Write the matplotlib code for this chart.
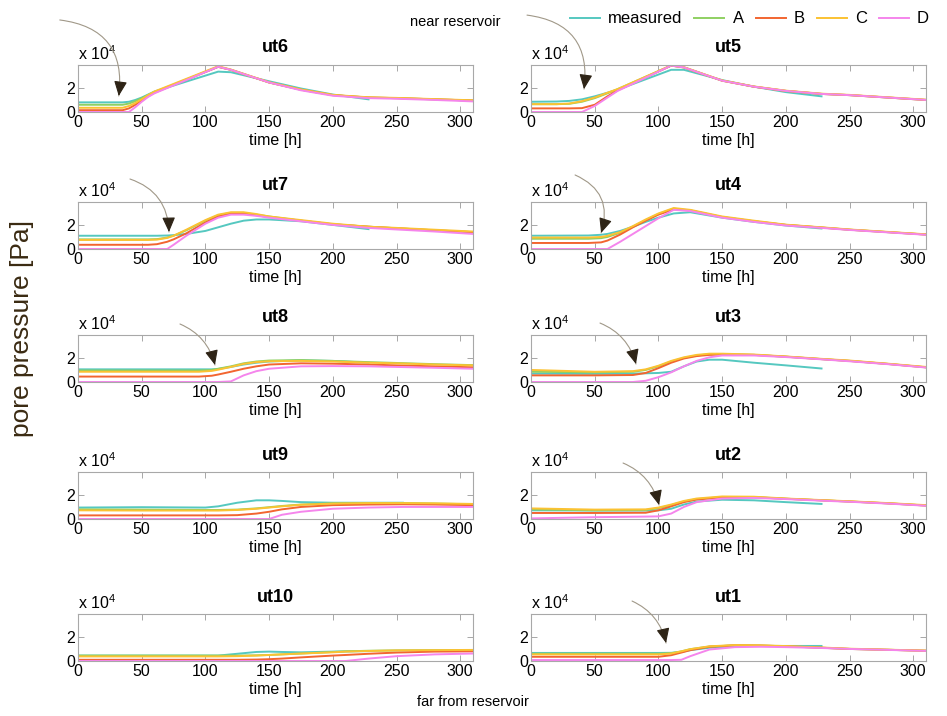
import numpy as np
import matplotlib
matplotlib.use('Agg')
import matplotlib.pyplot as plt

plt.rcParams['font.family'] = ['Liberation Sans', 'DejaVu Sans']
plt.rcParams['mathtext.fontset'] = 'custom'
plt.rcParams['mathtext.rm'] = 'Liberation Sans'
plt.rcParams['mathtext.it'] = 'Liberation Sans:italic'

nan = np.nan

# pore pressure in units of 1e4 Pa, measured vs. model runs A-D
t_ut6 = [0, 35, 40, 45, 50, 55, 60, 110, 120, 150, 175, 200, 228, 250, 280, 310]
ut6 = {
    'measured': [0.8, 0.8, 0.85, 1.0, 1.2, 1.45, 1.7, 3.35, 3.3, 2.55, 1.95, 1.45, 1.05, nan, nan, nan],
    'A': [0.6, 0.6, 0.7, 0.9, 1.15, 1.4, 1.65, 3.75, 3.5, 2.45, 1.85, 1.4, 1.2, 1.15, 1.05, 0.95],
    'B': [0.15, 0.15, 0.3, 0.6, 0.95, 1.3, 1.6, 3.75, 3.5, 2.45, 1.85, 1.4, 1.2, 1.15, 1.05, 0.95],
    'C': [0.35, 0.35, 0.5, 0.75, 1.05, 1.4, 1.7, 3.8, 3.52, 2.47, 1.87, 1.42, 1.22, 1.17, 1.07, 0.97],
    'D': [0, 0, 0, 0.4, 0.85, 1.25, 1.55, 3.75, 3.5, 2.45, 1.8, 1.35, 1.15, 1.1, 1.0, 0.88],
}

t_ut5 = [0, 20, 30, 40, 50, 60, 68, 110, 120, 150, 175, 200, 228, 250, 280, 310]
ut5 = {
    'measured': [0.85, 0.87, 0.92, 1.05, 1.3, 1.6, 1.85, 3.5, 3.5, 2.65, 2.1, 1.65, 1.3, nan, nan, nan],
    'A': [0.65, 0.65, 0.68, 0.85, 1.15, 1.55, 1.9, 3.85, 3.7, 2.6, 2.1, 1.75, 1.5, 1.4, 1.2, 1.0],
    'B': [0.3, 0.3, 0.3, 0.32, 0.6, 1.3, 1.8, 3.85, 3.7, 2.6, 2.1, 1.75, 1.5, 1.4, 1.2, 1.0],
    'C': [0.65, 0.65, 0.7, 0.9, 1.2, 1.6, 1.9, 3.87, 3.72, 2.62, 2.12, 1.77, 1.52, 1.42, 1.22, 1.02],
    'D': [0, 0, 0, 0, 0.5, 1.2, 1.75, 3.85, 3.7, 2.6, 2.1, 1.75, 1.5, 1.4, 1.2, 1.0],
}

t_ut7 = [0, 55, 62, 70, 75, 85, 100, 110, 120, 130, 140, 150, 175, 200, 228, 250, 280, 310]
ut7 = {
    'measured': [1.1, 1.1, 1.1, 1.12, 1.15, 1.25, 1.5, 1.8, 2.1, 2.35, 2.45, 2.45, 2.3, 2.0, 1.65, nan, nan, nan],
    'A': [0.8, 0.8, 0.82, 0.95, 1.1, 1.55, 2.35, 2.8, 3.0, 3.0, 2.85, 2.7, 2.35, 2.05, 1.85, 1.72, 1.55, 1.4],
    'B': [0.35, 0.35, 0.4, 0.6, 0.8, 1.3, 2.2, 2.7, 2.95, 2.95, 2.8, 2.65, 2.35, 2.05, 1.85, 1.72, 1.55, 1.4],
    'C': [0.75, 0.75, 0.78, 0.92, 1.1, 1.6, 2.4, 2.85, 3.05, 3.05, 2.9, 2.7, 2.4, 2.1, 1.85, 1.75, 1.6, 1.45],
    'D': [0, 0, 0, 0, 0.35, 1.1, 2.1, 2.6, 2.85, 2.85, 2.75, 2.6, 2.3, 2.0, 1.75, 1.62, 1.45, 1.25],
}

t_ut4 = [0, 45, 55, 60, 70, 80, 90, 100, 112, 125, 150, 175, 200, 228, 250, 280, 310]
ut4 = {
    'measured': [1.1, 1.12, 1.18, 1.25, 1.5, 1.85, 2.25, 2.6, 2.95, 3.05, 2.6, 2.25, 1.95, 1.7, nan, nan, nan],
    'A': [0.85, 0.85, 0.9, 1.0, 1.35, 1.85, 2.4, 2.9, 3.35, 3.2, 2.65, 2.3, 2.0, 1.78, 1.6, 1.4, 1.2],
    'B': [0.5, 0.5, 0.55, 0.7, 1.2, 1.8, 2.35, 2.85, 3.3, 3.2, 2.65, 2.3, 2.0, 1.78, 1.6, 1.4, 1.2],
    'C': [0.95, 0.95, 1.0, 1.1, 1.4, 1.9, 2.45, 2.95, 3.4, 3.25, 2.7, 2.35, 2.02, 1.8, 1.62, 1.42, 1.22],
    'D': [0, 0, 0, 0, 0.6, 1.25, 1.9, 2.55, 3.25, 3.15, 2.6, 2.25, 1.95, 1.75, 1.58, 1.38, 1.18],
}

t_ut8 = [0, 95, 105, 110, 120, 130, 140, 150, 175, 200, 228, 250, 280, 310]
ut8 = {
    'measured': [1.05, 1.05, 1.05, 1.08, 1.25, 1.45, 1.6, 1.7, 1.8, 1.75, 1.6, nan, nan, nan],
    'A': [0.95, 0.95, 1.0, 1.1, 1.3, 1.55, 1.7, 1.78, 1.82, 1.75, 1.65, 1.58, 1.48, 1.4],
    'B': [0.45, 0.45, 0.52, 0.62, 0.85, 1.1, 1.3, 1.45, 1.55, 1.52, 1.45, 1.38, 1.3, 1.22],
    'C': [0.85, 0.85, 0.92, 1.02, 1.25, 1.5, 1.65, 1.72, 1.75, 1.7, 1.6, 1.55, 1.45, 1.38],
    'D': [0, 0, 0, 0, 0.05, 0.55, 0.9, 1.1, 1.3, 1.32, 1.3, 1.25, 1.18, 1.1],
}

t_ut3 = [0, 50, 80, 90, 100, 110, 120, 130, 140, 150, 175, 200, 228, 250, 280, 310]
ut3 = {
    'measured': [0.7, 0.68, 0.7, 0.72, 0.75, 0.85, 1.3, 1.7, 1.85, 1.85, 1.6, 1.38, 1.12, nan, nan, nan],
    'A': [0.85, 0.8, 0.85, 1.0, 1.3, 1.7, 2.0, 2.2, 2.3, 2.3, 2.25, 2.1, 1.9, 1.75, 1.5, 1.22],
    'B': [0.55, 0.55, 0.58, 0.75, 1.15, 1.6, 1.95, 2.15, 2.25, 2.28, 2.25, 2.1, 1.9, 1.75, 1.5, 1.22],
    'C': [1.0, 0.85, 0.9, 1.05, 1.35, 1.75, 2.05, 2.25, 2.35, 2.35, 2.28, 2.12, 1.92, 1.78, 1.52, 1.25],
    'D': [0, 0, 0, 0.1, 0.4, 0.8, 1.3, 1.75, 2.05, 2.2, 2.2, 2.07, 1.88, 1.72, 1.48, 1.2],
}

t_ut9 = [0, 50, 100, 110, 125, 140, 150, 160, 175, 200, 228, 255, 280, 310]
ut9 = {
    'measured': [0.95, 0.98, 0.95, 1.05, 1.35, 1.55, 1.55, 1.5, 1.4, 1.35, 1.35, 1.35, nan, nan],
    'A': [0.8, 0.78, 0.75, 0.75, 0.78, 0.88, 0.98, 1.08, 1.2, 1.3, 1.33, 1.33, 1.28, 1.22],
    'B': [0.3, 0.3, 0.3, 0.3, 0.32, 0.45, 0.6, 0.8, 1.0, 1.15, 1.2, 1.22, 1.2, 1.15],
    'C': [0.72, 0.7, 0.7, 0.7, 0.75, 0.85, 0.95, 1.05, 1.18, 1.28, 1.32, 1.32, 1.3, 1.25],
    'D': [0, 0, 0, 0, 0, 0, 0, 0.35, 0.6, 0.85, 0.95, 1.0, 1.0, 1.0],
}

t_ut2 = [0, 50, 90, 100, 110, 120, 130, 150, 175, 200, 228, 250, 280, 310]
ut2 = {
    'measured': [0.72, 0.7, 0.7, 0.72, 0.85, 1.2, 1.45, 1.6, 1.55, 1.4, 1.25, nan, nan, nan],
    'A': [0.8, 0.72, 0.75, 0.9, 1.15, 1.45, 1.65, 1.82, 1.82, 1.68, 1.55, 1.45, 1.3, 1.12],
    'B': [0.5, 0.5, 0.52, 0.72, 1.05, 1.4, 1.62, 1.8, 1.8, 1.68, 1.55, 1.45, 1.3, 1.12],
    'C': [0.88, 0.78, 0.8, 0.95, 1.2, 1.5, 1.7, 1.87, 1.85, 1.7, 1.57, 1.47, 1.32, 1.15],
    'D': [0.05, 0.15, 0.2, 0.22, 0.45, 1.0, 1.4, 1.7, 1.75, 1.65, 1.52, 1.43, 1.28, 1.1],
}

t_ut10 = [0, 110, 125, 140, 150, 160, 175, 200, 210, 228, 250, 280, 310]
ut10 = {
    'measured': [0.45, 0.45, 0.6, 0.75, 0.78, 0.75, 0.72, 0.78, 0.8, 0.82, nan, nan, nan],
    'A': [0.45, 0.45, 0.45, 0.47, 0.5, 0.55, 0.62, 0.75, 0.8, 0.85, 0.88, 0.9, 0.9],
    'B': [0.1, 0.1, 0.1, 0.12, 0.15, 0.2, 0.3, 0.45, 0.5, 0.6, 0.7, 0.78, 0.8],
    'C': [0.38, 0.38, 0.4, 0.45, 0.5, 0.55, 0.62, 0.72, 0.78, 0.83, 0.88, 0.9, 0.92],
    'D': [0, 0, 0, 0, 0, 0, 0, 0, 0, 0.2, 0.4, 0.55, 0.62],
}

t_ut1 = [0, 100, 110, 118, 125, 140, 160, 180, 200, 228, 250, 280, 310]
ut1 = {
    'measured': [0.67, 0.67, 0.68, 0.75, 0.9, 1.1, 1.22, 1.25, 1.25, 1.25, nan, nan, nan],
    'A': [0.6, 0.6, 0.65, 0.8, 0.98, 1.2, 1.3, 1.28, 1.22, 1.1, 1.0, 0.93, 0.85],
    'B': [0.35, 0.35, 0.48, 0.7, 0.9, 1.18, 1.3, 1.28, 1.22, 1.1, 1.0, 0.93, 0.85],
    'C': [0.55, 0.55, 0.62, 0.8, 0.98, 1.22, 1.32, 1.3, 1.24, 1.12, 1.02, 0.94, 0.86],
    'D': [0.08, 0.08, 0.08, 0.1, 0.4, 0.95, 1.15, 1.18, 1.15, 1.08, 1.0, 0.92, 0.84],
}

series_colors = {
    'measured': '#55c8c0',
    'A': '#8fd062',
    'B': '#f26530',
    'C': '#fbc232',
    'D': '#f585ec',
}

# left column top->bottom, right column top->bottom
panels_left = [('ut6', t_ut6, ut6), ('ut7', t_ut7, ut7), ('ut8', t_ut8, ut8),
               ('ut9', t_ut9, ut9), ('ut10', t_ut10, ut10)]
panels_right = [('ut5', t_ut5, ut5), ('ut4', t_ut4, ut4), ('ut3', t_ut3, ut3),
                ('ut2', t_ut2, ut2), ('ut1', t_ut1, ut1)]

# arrows: target (t, p) and start offset in pixels, curvature
arrows = {
    'ut6': (32, 1.33, -59, 76, -0.5),
    'ut5': (41.6, 1.9, -57, 74, -0.5),
    'ut7': (71.4, 1.41, -39, 53, -0.35),
    'ut4': (55, 1.33, -26, 58, -0.45),
    'ut8': (107.5, 1.41, -35, 41, -0.25),
    'ut3': (82.4, 1.49, -36, 41, -0.25),
    'ut2': (100.5, 1.16, -36, 42, -0.25),
    'ut1': (106, 1.49, -34, 42, -0.25),
}

W, H = 947, 716
fig = plt.figure(figsize=(W / 100, H / 100), dpi=100)

row_tops = [65, 202, 335, 472, 614]
ax_h = 47
ax_w = 395
col_left = [78, 531]


def draw_arrow(ax, t, p, dx, dy, rad):
    tip = ax.transData.transform((t, p))
    start = tip + np.array([dx, dy])
    ax.annotate('', xy=tip, xytext=start, xycoords='figure pixels',
                textcoords='figure pixels',
                arrowprops=dict(arrowstyle='-', color='#a09888', lw=0.8,
                                shrinkA=0, shrinkB=0,
                                connectionstyle=f'arc3,rad={rad}'))
    # direction of the curve at its end -> arrow head
    d = tip - start
    mid = (tip + start) / 2
    ctrl = mid + rad * np.array([d[1], -d[0]])
    u = (tip - ctrl) / np.linalg.norm(tip - ctrl)
    base = tip - u * 12
    ax.annotate('', xy=tip, xytext=base, xycoords='figure pixels',
                textcoords='figure pixels',
                arrowprops=dict(arrowstyle='-|>,head_length=0.9,head_width=0.4',
                                color='#2e2416', lw=0.8, shrinkA=0, shrinkB=0))


axes = []
for col, panels in enumerate([panels_left, panels_right]):
    for row, (name, t, data) in enumerate(panels):
        l = col_left[col] / W
        b = 1 - (row_tops[row] + ax_h) / H
        ax = fig.add_axes([l, b, ax_w / W, ax_h / H])
        for key in ['measured', 'A', 'B', 'C', 'D']:
            ax.plot(t, data[key], color=series_colors[key], lw=1.4, label=key)
        ax.set_xlim(0, 310)
        ax.set_ylim(0, 3.9)
        ax.set_xticks(range(0, 301, 50))
        ax.set_yticks([0, 2])
        ax.tick_params(direction='in', top=True, right=True, length=4, width=0.6,
                       color='#999999', labelsize=11.5, pad=2)
        for s in ax.spines.values():
            s.set_color('#a8a8a8')
            s.set_linewidth(0.8)
        ax.set_xlabel('time [h]', fontsize=11.5, labelpad=2.5)
        ax.set_title(name, fontsize=13, fontweight='bold', pad=9)
        ax.text(0, 1.04, r'x 10$^{4}$', transform=ax.transAxes, fontsize=11.5,
                va='bottom', ha='left')
        axes.append((name, ax))

for name, ax in axes:
    if name in arrows:
        draw_arrow(ax, *arrows[name])

handles, labels = axes[0][1].get_legend_handles_labels()
fig.legend(handles, labels, loc='upper right', bbox_to_anchor=(944 / W, 1.005),
           ncol=5, frameon=False, fontsize=12, handlelength=1.8,
           handletextpad=0.5, columnspacing=0.7)

fig.text(455 / W, 1 - 22 / H, 'near reservoir', fontsize=10.5, ha='center', va='center')
fig.text(473 / W, 1 - 702 / H, 'far from reservoir', fontsize=10.5, ha='center', va='center')
fig.text(22 / W, 1 - 328 / H, 'pore pressure [Pa]', rotation=90, fontsize=19,
         color='#3a2a12', ha='center', va='center')

fig.savefig('out.png', dpi=100)
